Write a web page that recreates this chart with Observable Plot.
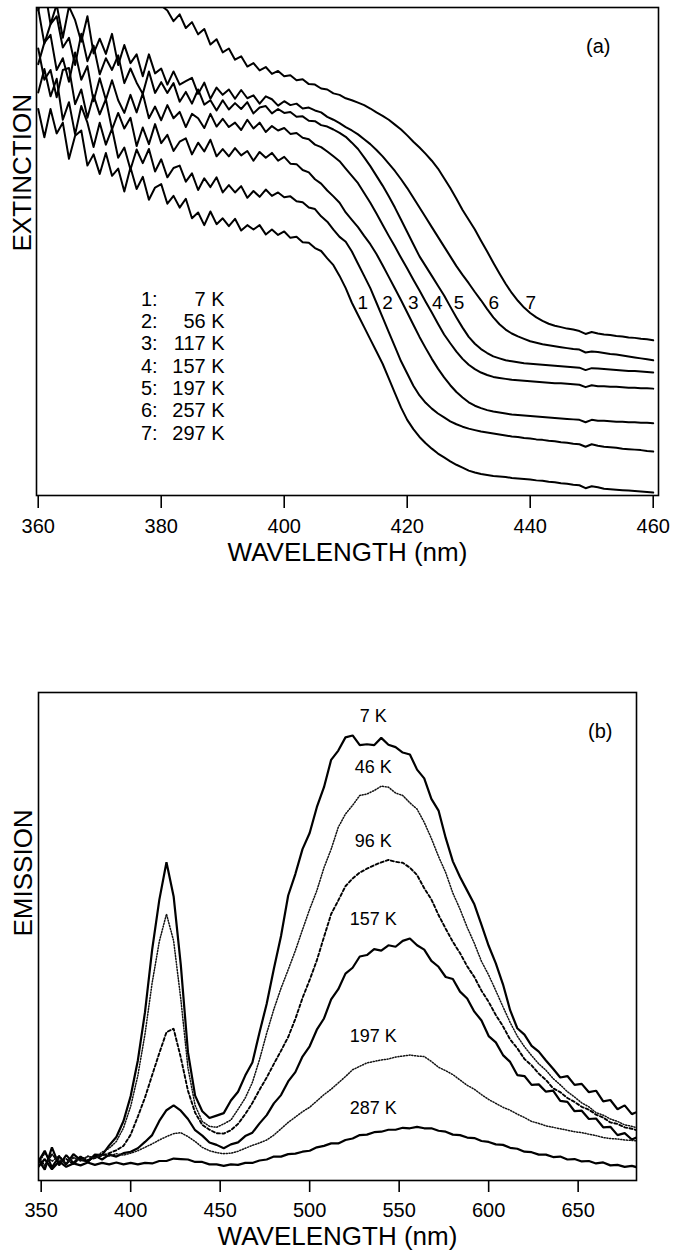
<!DOCTYPE html>
<html><head><meta charset="utf-8">
<script src="https://cdn.jsdelivr.net/npm/d3@7"></script>
<script src="https://cdn.jsdelivr.net/npm/@observablehq/plot@0.6"></script>
<style>
body{margin:0;background:#fff;}
#chart{width:674px;position:relative;background:#fff;}
svg{display:block}
</style></head><body><div id="chart"></div>
<script>
// ---------- Panel (a): extinction ----------
const wlA = [
360,361,362,363,364,365,366,367,368,369,
370,371,372,373,374,375,376,377,378,379,
380,381,382,383,384,385,386,387,388,389,
390,391,392,393,394,395,396,397,398,399,
400,401,402,403,404,405,406,407,408,409,410,
411,412,413,414,415,416,417,418,419,420,
421,422,423,424,425,426,427,428,429,430,
431,432,433,434,435,436,437,438,439,440,
441,442,443,444,445,446,447,448,449,450,
451,452,453,454,455,456,457,458,459,460];
const cA1 = [
79.2,73.4,79.2,74.2,76.4,69,73.7,74.8,67.6,69.9,
65.9,70.2,65.5,67,62.3,67.2,62.8,65.3,60.6,63.1,
63.8,59.8,61.4,59,60.8,56.8,58,55.4,58.2,55.6,
56.8,55.2,56.7,54.3,55.4,54.5,55.4,53.5,54.5,53.4,
54.1,52.8,53,51.9,51.8,50.7,50.1,48.6,47.2,45,42.5,
39.5,37,34.5,32,29.5,27,24,21,18,15.5,
13.6,12,10.7,9.6,8.6,7.8,7,6.3,5.7,5.1,
4.7,4.4,4.2,4.0,3.9,3.8,3.6,3.5,3.4,3.3,
3.1,3.0,2.8,2.7,2.5,2.4,2.2,2.1,1.5,1.9,
1.7,1.4,1.3,1.2,1.1,1.0,0.9,0.8,0.7,0.6];
const cA2 = [
82.6,87.4,81.8,85.4,77,80.6,74,79.8,76.4,71.4,
76.4,71.9,75.2,69.2,71.3,66.8,70.9,68.1,71,66.4,
68.9,65.2,67.1,67.6,64.3,66,62.6,65,63.2,65.2,
62.1,63.6,62.1,63.4,61,62.4,61.2,62.7,61.4,62.1,
61.1,61.3,60.3,60.1,59,58.7,57.2,56.1,54.5,53,52,
50,47.5,45,42.5,39.5,36.5,33.5,30.5,27.5,25,
22.5,20.5,19,17.8,16.8,16,15.2,14.6,14.1,13.7,
13.4,13.1,12.9,12.7,12.5,12.3,12.1,12,11.8,11.7,
11.5,11.4,11.2,11.1,10.9,10.8,10.6,10.5,10.0,10.5,
10.2,10,9.9,9.8,9.6,9.5,9.4,9.3,9.1,9.0];
const cA3 = [
91.6,85.2,87.2,81.6,87.2,87.6,80.2,83.2,77.4,82,
78.1,81.2,75,78.4,75.2,77.4,71.6,75.4,72,76.1,
72.2,73.9,70.6,72.5,73.2,69.9,72.3,70.5,72.9,69.5,
71,69.5,71.2,69.7,70.6,68.6,70.4,69.2,70.2,68.6,
69.4,68,67.9,66.7,66.2,64.8,63.9,62.5,61.3,60,58,
56.5,55,53.2,51.5,49.5,47.2,44.8,42.4,40,37.5,
35,32.5,30.2,28,26,24.2,22.6,21.2,20.1,19.1,
18.4,17.9,17.5,17.2,17,16.8,16.6,16.5,16.4,16.3,
16.2,16.1,16,15.9,15.8,15.7,15.6,15.5,15.0,15.5,
15.3,15.3,15.2,15.1,15.1,15,15,14.9,14.9,14.8];
const cA4 = [
88.4,92.8,94.4,87.2,89.6,84.8,90.8,85.2,88,80.8,
85.5,81.1,85.1,81,78.4,82.1,78.5,82.4,77.3,79.7,
76.9,80,77.3,78.6,75.5,78.2,77.3,75.3,78.2,75.6,
77.2,75.5,76.4,74.9,77,75.2,76.4,74.5,75.7,74.8,
75.3,74.1,74.3,73.3,73,71.9,71.4,70.5,69.5,68.5,67,
65.5,64,62,60,57.8,55.5,53.2,51,48.7,46.5,
44.2,42,39.7,37.5,35.2,33,31.2,29.5,28,26.8,
25.9,25.2,24.7,24.3,24.1,23.9,23.7,23.6,23.5,23.4,
23.3,23.2,23.1,23,23,22.9,22.8,22.7,22.2,22.6,
22.4,22.4,22.3,22.3,22.2,22.1,22.1,22,22,21.9];
const cA5 = [
99.8,92.6,96.6,98.2,91.8,93.8,88.2,94.6,89,92.2,
86.3,89.6,87.2,90.2,84.5,87.5,84.6,82.3,86.9,82.5,
84.7,82.5,84.5,80.7,82.7,80.3,83.2,80.1,81,78.9,
81,79.1,80.4,79.2,80.6,78.3,79.5,79.8,78.3,79.2,
78.4,78.6,77.6,77.7,76.8,76.7,75.9,75.6,75,74.3,73.5,
72.3,71,69.3,67.5,65.5,63.5,61.3,59,56.5,54,
51.5,49,47,45,43,41,38.7,36.5,34.4,32.5,
31.1,30,29.2,28.5,28.1,27.7,27.5,27.3,27.1,27,
26.9,26.8,26.7,26.6,26.5,26.4,26.3,26.2,25.7,26.1,
26,25.9,25.8,25.7,25.6,25.5,25.5,25.4,25.3,25.2];
const cA6 = [
99.4,104.2,96.6,100.6,93.8,100.2,97.4,93,98.2,90.6,
93.6,90.5,94.6,88.2,92.3,88.6,90.4,85.9,90.4,86.5,
87.5,84.2,86.9,84.2,84.9,85.6,82.3,84.6,81.3,83.6,
82.1,83.2,81.3,83.1,81.4,82,80.3,81.8,81.2,79.9,
80.8,80,80.3,79.3,79.5,78.9,78.5,77.6,77,76.3,75.5,
74.8,74,73,72,70.8,69.5,68,66.5,64.8,63,
61,59,57,55,53,51,49,47,45.2,43.5,
41.7,40,38.2,36.5,35.1,34,33.2,32.6,32.1,31.6,
31.3,31,30.8,30.6,30.4,30.2,30,29.9,29.3,29.5,
29.4,29.2,29,28.9,28.7,28.5,28.3,28.1,27.9,27.7];
const cA7 = [
108,112,106,110,104,109,103,107,101.5,105,
102,106,100.8,104,101.5,103.5,100.9,102.8,100.7,101.8,
100.4,99.4,97.2,98.6,95.8,97,94.5,95.6,92.4,93.5,
90.8,91.6,89.3,90,87.9,88.6,87.1,87.8,86.4,87,
85.9,86.1,85.1,85.3,84.3,84.2,83.4,83.2,82.4,82.1,81.4,
81,80.5,80,79.3,78.5,77.8,77,76,75,73.8,
72.5,71.3,70,68.6,67,65,63,60.8,58.5,56.5,
54.5,52.2,50,47.7,45.5,43.4,41.5,39.9,38.5,37.4,
36.5,35.8,35.2,34.8,34.5,34.2,34,33.7,33.1,33.5,
33.2,33,32.9,32.7,32.6,32.4,32.3,32.1,32,31.8];
const curveNamesA = ["1","2","3","4","5","6","7"];
const legendNumsA = ["1:","2:","3:","4:","5:","6:","7:"];
const legendTempsA = ["7 K","56 K","117 K","157 K","197 K","257 K","297 K"];
const xTicksA = [360,380,400,420,440,460];

// ---------- Panel (b): emission ----------
const wlB = [
348,352,356,360,364,368,372,376,380,384,
388,392,396,400,404,408,412,416,420,424,
428,432,436,440,444,448,452,456,460,464,
468,472,476,480,484,488,492,496,500,504,
508,512,516,520,524,528,532,536,540,544,
548,552,556,560,564,568,572,576,580,584,
588,592,596,600,604,608,612,616,620,624,
628,632,636,640,644,648,652,656,660,664,
668,672,676,680,684];
const e7 = [
4.5,2.2,6.8,3.1,5.2,3.6,4.9,3.8,5.3,5.2,
7.2,8.9,12.2,17.3,24.6,34.5,47.3,57.5,65.2,58.2,
44.2,26.3,17.4,14.2,12.8,13.3,13.8,16.4,18.2,21.5,
24.2,30.4,36.2,43.4,50.1,58.4,62.8,67.9,71.2,76.5,
80.6,86.2,88.1,90.8,91.2,89.2,89.4,89.2,90.7,89.3,
88.8,87.7,87.3,84.2,82.4,78.2,75.8,70.2,65.4,62.2,
59.4,56.6,52.4,48.1,44.5,40.2,34.9,31.2,29.9,27.6,
26.4,24.6,22.9,21.1,21.4,19.6,19.8,18.1,18.4,16.2,
16.5,14.6,15.4,13.6,14.2];
const e46 = [
3.2,5.6,3.9,5.1,3.4,4.6,4.1,5,4.7,5.8,
6.6,8,10.8,15.2,21.5,30,40.5,49,54.6,49.1,
37.2,23.1,15.4,12.1,11.1,10.9,11.6,12.4,14.6,16.9,
20.1,24.8,30.2,35.1,39.4,43.2,47.1,51.4,55.6,59.4,
64.1,67.9,72.4,75.1,76.9,78.9,79.2,79.9,80.8,80.6,
79.4,78.9,77.4,76.1,73.4,70.1,66.4,63.1,58.9,55.6,
51.9,48.6,44.9,42.1,38.9,35.6,32.4,29.6,27.4,25.6,
23.9,22.6,20.9,19.6,18.2,17.1,15.9,15.1,13.9,13.4,
12.6,12.1,11.4,11.1,10.7];
const e96 = [
4.8,3.1,5.4,3.7,4.4,3.3,4.8,4.2,4.6,5.1,
5.6,6.2,7.1,9.4,13.1,17,21.6,26.1,30.4,31.1,
25.2,18.4,13.9,11.4,10.4,9.7,9.6,10.3,11.6,13.6,
15.9,18.6,21.1,23.9,26.6,29.4,33.1,37.4,41.1,45.1,
49.9,54.6,57.4,60.3,61.9,63.1,63.9,64.6,65.2,65.7,
65.3,65.1,64.1,62.6,59.9,57.6,54.4,51.6,48.9,46.6,
43.9,41.7,38.9,36.6,33.9,31.6,28.9,27.1,24.9,23.6,
21.9,20.6,18.9,18.1,16.9,16.1,15.1,14.5,13.5,12.9,
11.9,11.6,10.9,10.6,10.2];
const e157 = [
3.6,6.1,2.7,4.9,3.3,5.4,4.2,3.9,5.1,4.3,
5.3,4.9,5.6,5.9,6.6,7.9,9.3,12.2,14.4,15.4,
14.3,12.6,10.3,9.2,7.8,7.3,6.6,7.4,7.8,9.1,
9.8,11.7,13.4,15.8,17.5,20.3,22.2,25.4,27.5,30.9,
33.2,37.1,39.2,42.4,43.6,45.9,46.2,47.4,47.1,48.2,
47.9,49.1,49.6,48.2,47.3,45,43.8,41.7,41.3,38.7,
37.3,34.6,32.8,29.6,28.3,25.7,24.3,21.6,21.4,19.6,
19.7,18.2,18.4,16.3,16.1,14.2,14.3,12.6,12.7,10.9,
11,9.3,9.7,8.4,9];
const e197 = [
4.1,2.9,5.3,4.2,3.6,4.8,4,4.9,4.6,5.2,
5,5.5,5.2,5.6,6.1,6.8,7.5,8.3,9,9.6,
9.8,9,8,6.8,6.1,5.7,5.5,5.6,6,6.6,
7.2,7.7,8.3,9.3,10.6,11.9,13,14.1,15,16.3,
17.6,18.7,20,21.3,22.7,23.4,24.1,24.4,24.7,24.9,
25.3,25.5,25.7,25.5,25.4,24.4,23.2,22.5,21.7,20.6,
19.5,18.7,17.6,16.6,15.8,15,14.4,13.6,12.9,12.1,
11.7,11.2,10.9,10.6,10.3,10,9.8,9.5,9.2,8.8,
8.6,8.5,8.3,8.2,8.1];
const e287 = [
2.6,4.4,2.3,3.9,2.8,3.5,3.1,3.7,3.2,3.6,
3.3,3.7,3.3,3.6,3.3,3.6,3.5,4,4,4.5,
4.4,4.3,3.8,3.8,3.3,3.3,3,3.3,3.2,3.6,
3.6,4.1,4.3,4.9,4.9,5.4,5.5,5.9,6.1,6.8,
7.1,7.6,7.6,8.3,8.6,9.3,9.4,9.9,10,10.4,
10.4,10.8,10.7,11,10.7,10.7,10.2,10,9.4,9.3,
8.8,8.7,8.1,7.9,7.4,7.3,6.7,6.5,5.9,5.8,
5.3,5.3,4.8,4.9,4.3,4.4,3.9,4,3.5,3.7,
3.1,3.2,2.8,3,2.6];
const tempsB = ["7 K","46 K","96 K","157 K","197 K","287 K"];
const xTicksB = [350,400,450,500,550,600,650];

// ---------- helpers ----------
const font = "'Liberation Sans', Arial, Helvetica, sans-serif";
function rows(xs, ys){ return xs.map((x,i)=>({x, y: ys[i]})); }
[cA1,cA2,cA3,cA4,cA5,cA6,cA7].forEach((s,i)=>{ if (s.length!==wlA.length) console.error("A"+i, s.length); });
[e7,e46,e96,e157,e197,e287].forEach((s,i)=>{ if (s.length!==wlB.length) console.error("B"+i, s.length); });

const labelRowA = 39.5;
function crossing(xs, ys, level, from){
  for (let i = 0; i < xs.length-1; i++) {
    if (xs[i] < from) continue;
    if (ys[i] >= level && ys[i+1] < level) {
      const t = (ys[i]-level)/(ys[i]-ys[i+1]);
      return xs[i] + t*(xs[i+1]-xs[i]);
    }
  }
  return NaN;
}
const seriesA = [cA1,cA2,cA3,cA4,cA5,cA6,cA7];
const crossA = seriesA.map(s => crossing(wlA, s, labelRowA, 404));

// ---------- Plot A ----------
const plotA = Plot.plot({
  width: 674, height: 580,
  marginLeft: 36, marginRight: 16, marginTop: 7, marginBottom: 85,
  style: {fontFamily: font, fontSize: "20px", color: "#000", background: "#fff", overflow: "visible"},
  x: {domain: [359.72, 460.86]},
  y: {domain: [0, 100], axis: null},
  marks: [
    ...seriesA.map(s => Plot.line(rows(wlA, s), {x: "x", y: "y", stroke: "#000", strokeWidth: 2, clip: true})),
    Plot.frame({stroke: "#000", strokeWidth: 1.6}),
    Plot.axisX(xTicksA, {tickSize: 13, tickPadding: 10, strokeWidth: 1.6, fontSize: 20, label: null, tickFormat: d => String(d)}),
    Plot.text(["WAVELENGTH (nm)"], {text: d => d, frameAnchor: "bottom", dy: 57, fontSize: 26, lineAnchor: "middle"}),
    Plot.text(["EXTINCTION"], {text: d => d, frameAnchor: "left", rotate: -90, dx: -14, fontSize: 26, lineAnchor: "middle"}),
    Plot.text(["(a)"], {text: d => d, frameAnchor: "top-right", dx: -48, dy: 39, fontSize: 20, lineAnchor: "middle"}),
    Plot.text(curveNamesA, {x: (d,i) => crossA[i], y: () => labelRowA, text: d => d, dx: 11, fontSize: 19, lineAnchor: "middle"}),
    Plot.text(legendNumsA, {x: () => 376.7, y: (d,i) => 40.2 - i*4.57, text: d => d, textAnchor: "start", fontSize: 20, lineAnchor: "middle"}),
    Plot.text(legendTempsA, {x: () => 390.3, y: (d,i) => 40.2 - i*4.57, text: d => d, textAnchor: "end", fontSize: 20, lineAnchor: "middle"})
  ]
});

// ---------- Plot B ----------
const seriesB = [e7, e46, e96, e157, e197, e287];
const stylesB = [
  {stroke: "#000", strokeWidth: 2.2},
  {stroke: "#111", strokeWidth: 1.5, strokeDasharray: "1.1,1.7"},
  {stroke: "#000", strokeWidth: 1.9, strokeDasharray: "3,2.4"},
  {stroke: "#000", strokeWidth: 2.2},
  {stroke: "#111", strokeWidth: 1.5, strokeDasharray: "1.1,1.7"},
  {stroke: "#000", strokeWidth: 2.2}
];
const peaksB = seriesB.map(s => d3.max(s.filter((v,i) => wlB[i] > 480)));
const labelColumnB = 535.5;

const plotB = Plot.plot({
  width: 674, height: 672,
  marginLeft: 38, marginRight: 38, marginTop: 112, marginBottom: 72,
  style: {fontFamily: font, fontSize: "20px", color: "#000", background: "#fff", overflow: "visible"},
  x: {domain: [348.5, 682.6]},
  y: {domain: [0, 100], axis: null},
  marks: [
    ...seriesB.map((s, k) => Plot.line(rows(wlB, s), {x: "x", y: "y", ...stylesB[k], strokeLinejoin: "miter", clip: true})),
    Plot.frame({stroke: "#000", strokeWidth: 1.6}),
    Plot.axisX(xTicksB, {tickSize: 12, tickPadding: 10, strokeWidth: 1.6, fontSize: 20, label: null, tickFormat: d => String(d)}),
    Plot.text(["WAVELENGTH (nm)"], {text: d => d, frameAnchor: "bottom", dy: 56, fontSize: 26, lineAnchor: "middle"}),
    Plot.text(["EMISSION"], {text: d => d, frameAnchor: "left", rotate: -90, dx: -15, fontSize: 26, lineAnchor: "middle"}),
    Plot.text(["(b)"], {text: d => d, frameAnchor: "top-right", dx: -24, dy: 39, fontSize: 20, lineAnchor: "middle"}),
    Plot.text(tempsB, {x: () => labelColumnB, y: (d,i) => peaksB[i], text: d => d, dy: -19, fontSize: 18, lineAnchor: "middle"})
  ]
});

const chart = document.getElementById("chart");
chart.appendChild(plotA);
chart.appendChild(plotB);
</script>
</body></html>
